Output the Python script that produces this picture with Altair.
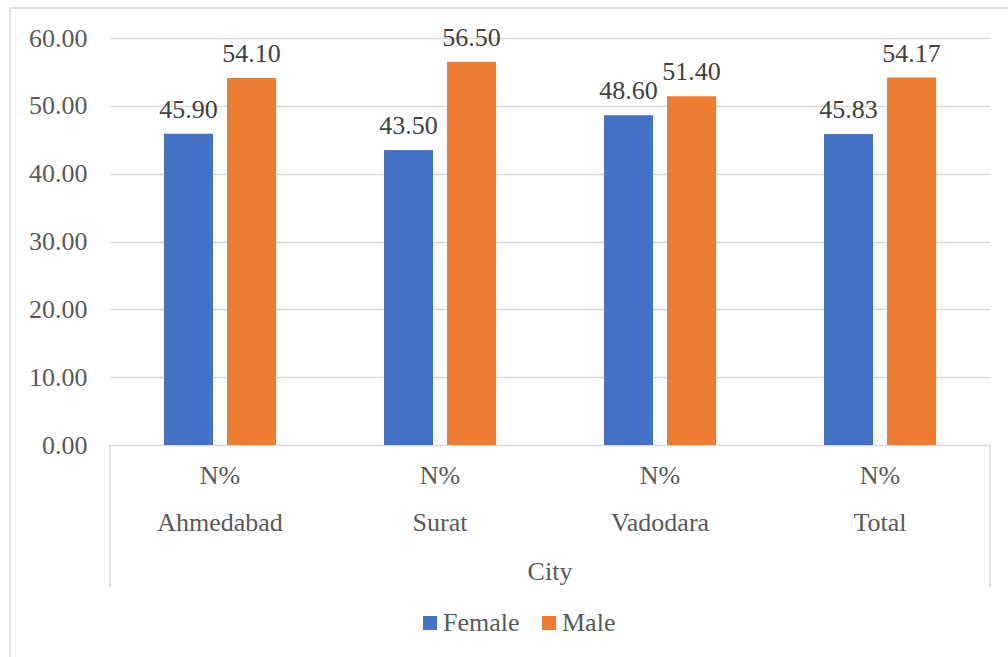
import altair as alt
import pandas as pd

# Share of respondents by gender in each city
cities = ["Ahmedabad", "Surat", "Vadodara", "Total"]
genders = ["Female", "Male"]
female_pct = [45.90, 43.50, 48.60, 45.83]
male_pct = [54.10, 56.50, 51.40, 54.17]
measure = "N%"
axis_title = "City"
y_ticks = [0, 10, 20, 30, 40, 50, 60]
bar_colors = ["#4472C4", "#ED7D31"]

rows = []
for city, f, m in zip(cities, female_pct, male_pct):
    rows.append({"city": city, "gender": "Female", "pct": f})
    rows.append({"city": city, "gender": "Male", "pct": m})
df = pd.DataFrame(rows)
cat_df = pd.DataFrame({"city": cities, "measure": [measure] * len(cities)})
title_df = pd.DataFrame({"t": [axis_title]})

FONT = "Liberation Serif"
FS = 26
GRID = "#d9d9d9"
TEXT = "#595959"

x_scale = alt.Scale(domain=cities, paddingInner=0, paddingOuter=0)
off_scale = alt.Scale(domain=genders, paddingInner=0.2222, paddingOuter=0.857)

# band axis: its ticks at the band edges separate the city groups
x_enc = alt.X(
    "city:N",
    scale=x_scale,
    axis=alt.Axis(
        labels=False, title=None, grid=False,
        domainColor=GRID, domainWidth=1.5,
        ticks=True, tickBand="extent", tickSize=95,
        tickColor=GRID, tickWidth=1.5,
    ),
)
x_plain = alt.X("city:N", scale=x_scale, axis=None)
off_enc = alt.XOffset("gender:N", scale=off_scale)

# outer chart frame
frame = alt.Chart(title_df).mark_rect(fill=None, stroke=GRID, strokeWidth=1.5).encode(
    x=alt.value(-100), x2=alt.value(1000), y=alt.value(-30), y2=alt.value(700)
)

# outer edges of the category axis reach down to the title row
edge_left = alt.Chart(title_df).mark_rule(color=GRID, strokeWidth=1.5).encode(
    x=alt.value(0), y=alt.value(407), y2=alt.value(549)
)
edge_right = alt.Chart(title_df).mark_rule(color=GRID, strokeWidth=1.5).encode(
    x=alt.value(880), y=alt.value(407), y2=alt.value(549)
)

bars = alt.Chart(df).mark_bar().encode(
    x=x_enc,
    xOffset=off_enc,
    y=alt.Y(
        "pct:Q",
        scale=alt.Scale(domain=[0, 60], nice=False),
        axis=alt.Axis(
            values=y_ticks, format=".2f", title=None,
            labelFont=FONT, labelFontSize=FS, labelColor=TEXT, labelPadding=23,
            domain=False, ticks=False, gridColor=GRID, gridWidth=1.5,
        ),
    ),
    color=alt.Color(
        "gender:N",
        scale=alt.Scale(domain=genders, range=bar_colors),
        legend=alt.Legend(
            title=None, orient="none", legendX=307, legendY=572,
            direction="horizontal", symbolType="square", symbolSize=196,
            symbolStrokeWidth=0, labelFont=FONT, labelFontSize=FS,
            labelColor=TEXT, labelOffset=0, columnPadding=16,
        ),
    ),
)

values = alt.Chart(df).mark_text(
    font=FONT, fontSize=FS, color="#404040", baseline="alphabetic", dy=-16
).encode(
    x=x_plain,
    xOffset=off_enc,
    y=alt.Y("pct:Q", scale=alt.Scale(domain=[0, 60], nice=False)),
    text=alt.Text("pct:Q", format=".2f"),
)

row_measure = alt.Chart(cat_df).mark_text(
    font=FONT, fontSize=FS, color=TEXT, baseline="middle"
).encode(x=x_plain, y=alt.value(438), text="measure:N")

row_city = alt.Chart(cat_df).mark_text(
    font=FONT, fontSize=FS, color=TEXT, baseline="middle"
).encode(x=x_plain, y=alt.value(485), text="city:N")

city_title = alt.Chart(title_df).mark_text(
    font=FONT, fontSize=FS, color=TEXT, baseline="middle"
).encode(x=alt.value(440), y=alt.value(534), text="t:N")

chart = alt.layer(
    frame, edge_left, edge_right, bars, values, row_measure, row_city, city_title
).properties(
    width=880,
    height=407,
    autosize="none",
    padding={"left": 110, "top": 38, "right": 18, "bottom": 212},
).configure_view(stroke=None)

chart.save("out.html", embed_options={"renderer": "svg", "actions": False})
